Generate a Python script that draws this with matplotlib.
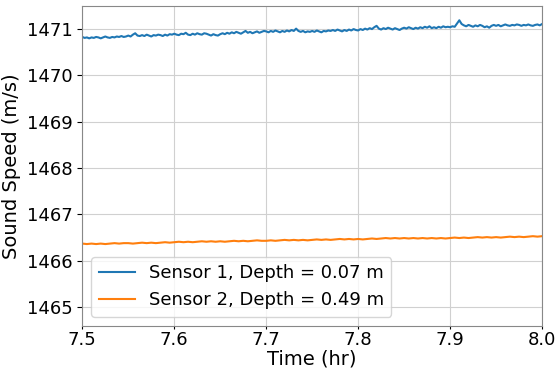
import matplotlib
matplotlib.use("Agg")
import matplotlib.pyplot as plt
import numpy as np


# sample grids (hr)
time1 = np.round(np.arange(7.5, 8.0001, 0.0025), 4)
time2 = np.round(np.arange(7.5, 8.0001, 0.005), 3)

sensor1 = [
    1470.83, 1470.81, 1470.82, 1470.80, 1470.82, 1470.81, 1470.83, 1470.82, 1470.80, 1470.82,
    1470.84, 1470.82, 1470.81, 1470.83, 1470.82, 1470.84, 1470.83, 1470.85, 1470.83, 1470.84,
    1470.86, 1470.84, 1470.88, 1470.91, 1470.86, 1470.85, 1470.87, 1470.85, 1470.88, 1470.86,
    1470.84, 1470.87, 1470.86, 1470.88, 1470.87, 1470.85, 1470.88, 1470.86, 1470.89, 1470.88,
    1470.90, 1470.88, 1470.87, 1470.90, 1470.89, 1470.92, 1470.88, 1470.87, 1470.90, 1470.88,
    1470.91, 1470.89, 1470.88, 1470.91, 1470.90, 1470.88, 1470.86, 1470.89, 1470.87, 1470.86,
    1470.89, 1470.91, 1470.89, 1470.92, 1470.90, 1470.93, 1470.91, 1470.94, 1470.92, 1470.90,
    1470.93, 1470.96, 1470.92, 1470.94, 1470.91, 1470.93, 1470.95, 1470.92, 1470.94, 1470.96,
    1470.95, 1470.93, 1470.96, 1470.94, 1470.97, 1470.95, 1470.93, 1470.96, 1470.94, 1470.97,
    1470.95, 1470.98, 1470.96, 1471.01, 1470.96, 1470.94, 1470.96, 1470.93, 1470.95, 1470.94,
    1470.96, 1470.94, 1470.97, 1470.95, 1470.93, 1470.96, 1470.95, 1470.97, 1470.96, 1470.98,
    1470.96, 1470.99, 1470.97, 1470.95, 1470.98, 1470.96, 1470.99, 1470.97, 1471.00, 1470.98,
    1470.97, 1471.00, 1470.98, 1471.01, 1470.99, 1471.02, 1471.00, 1471.04, 1471.07, 1471.01,
    1470.99, 1471.02, 1471.00, 1471.03, 1471.01, 1470.99, 1471.02, 1471.00, 1470.98, 1471.01,
    1471.03, 1471.01, 1471.04, 1471.02, 1471.00, 1471.03, 1471.01, 1471.04, 1471.02, 1471.05,
    1471.03, 1471.06, 1471.02, 1471.04, 1471.02, 1471.05, 1471.03, 1471.06, 1471.04, 1471.05,
    1471.04, 1471.06, 1471.05, 1471.12, 1471.19, 1471.11, 1471.08, 1471.06, 1471.09, 1471.07,
    1471.05, 1471.08, 1471.06, 1471.09, 1471.07, 1471.04, 1471.06, 1471.03, 1471.07, 1471.09,
    1471.07, 1471.09, 1471.06, 1471.08, 1471.10, 1471.08, 1471.07, 1471.09, 1471.08, 1471.10,
    1471.09, 1471.07, 1471.09, 1471.08, 1471.10, 1471.08, 1471.07, 1471.09, 1471.10, 1471.08,
    1471.11,
]

sensor2 = [
    1466.37, 1466.36, 1466.37, 1466.36, 1466.37, 1466.36, 1466.37, 1466.38, 1466.37, 1466.38,
    1466.38, 1466.37, 1466.38, 1466.39, 1466.38, 1466.39, 1466.38, 1466.39, 1466.40, 1466.39,
    1466.40, 1466.41, 1466.40, 1466.41, 1466.40, 1466.41, 1466.42, 1466.41, 1466.42, 1466.41,
    1466.42, 1466.41, 1466.42, 1466.43, 1466.42, 1466.43, 1466.42, 1466.43, 1466.44, 1466.43,
    1466.43, 1466.44, 1466.43, 1466.44, 1466.45, 1466.44, 1466.45, 1466.44, 1466.45, 1466.44,
    1466.45, 1466.46, 1466.45, 1466.46, 1466.45, 1466.46, 1466.47, 1466.46, 1466.47, 1466.46,
    1466.47, 1466.46, 1466.47, 1466.48, 1466.47, 1466.48, 1466.49, 1466.48, 1466.49, 1466.48,
    1466.49, 1466.48, 1466.49, 1466.48, 1466.49, 1466.48, 1466.49, 1466.48, 1466.49, 1466.48,
    1466.49, 1466.50, 1466.49, 1466.50, 1466.49, 1466.50, 1466.51, 1466.50, 1466.51, 1466.50,
    1466.51, 1466.50, 1466.51, 1466.52, 1466.51, 1466.52, 1466.51, 1466.52, 1466.53, 1466.52,
    1466.53,
]

labels = ["Sensor 1, Depth = 0.07 m", "Sensor 2, Depth = 0.49 m"]

fig, ax = plt.subplots(figsize=(5.6, 3.7), dpi=100)
ax.plot(time1, sensor1, color="#1f77b4", lw=1.5, label=labels[0])
ax.plot(time2, sensor2, color="#ff7f0e", lw=1.5, label=labels[1])

ax.set_xlim(7.5, 8.0)
ax.set_ylim(1464.6, 1471.5)
ax.set_xticks([7.5, 7.6, 7.7, 7.8, 7.9, 8.0])
ax.set_yticks([1465, 1466, 1467, 1468, 1469, 1470, 1471])
ax.tick_params(labelsize=13)
ax.tick_params(axis="x", length=2, pad=2)
ax.set_xlabel("Time (hr)", fontsize=14, labelpad=0)
ax.set_ylabel("Sound Speed (m/s)", fontsize=14, labelpad=4)
ax.grid(True, color="#d0d0d0", lw=0.8)
for s in ax.spines.values():
    s.set_color("#888888")
ax.legend(loc="lower left", fontsize=13)

fig.subplots_adjust(left=0.147, right=0.968, top=0.984, bottom=0.12)
fig.savefig("out.png")
